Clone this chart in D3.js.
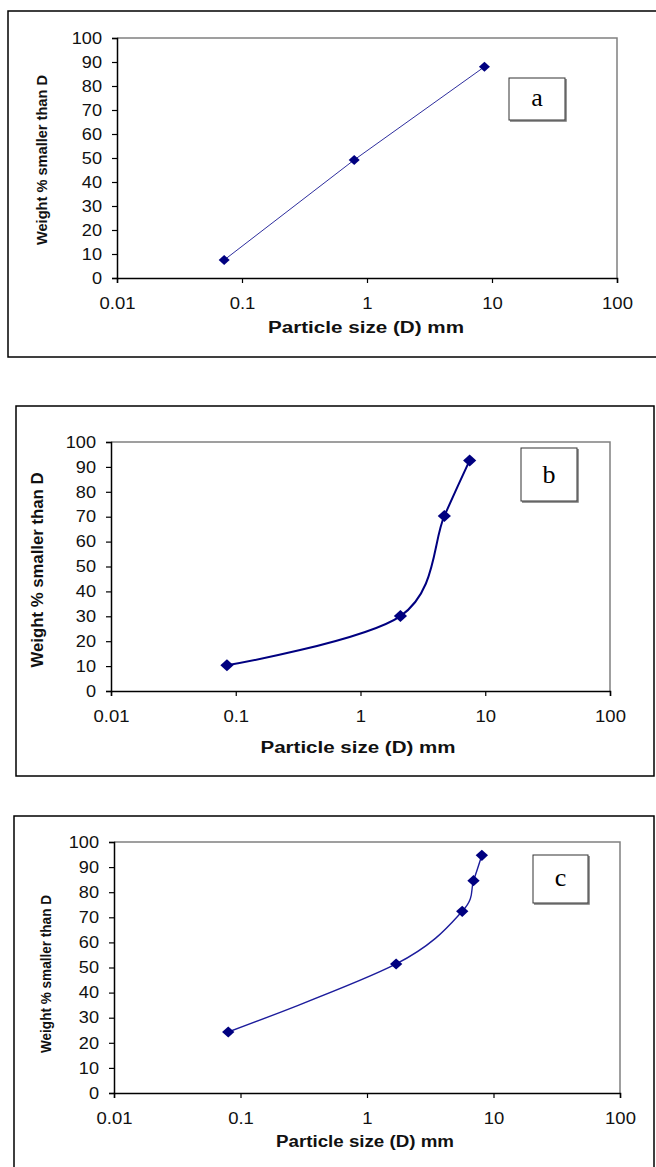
<!DOCTYPE html>
<html lang="en">
<head>
  <meta charset="UTF-8">
  <title>Particle size distribution</title>
  <script src="https://d3js.org/d3.v7.min.js"></script>
  <style>
    html, body { margin: 0; padding: 0; background: #fff; }
    svg { display: block; }
    text { font-family: Arial, "Liberation Sans", sans-serif; fill: #111; }
    text.letter { font-family: "Liberation Serif", "Times New Roman", serif; fill: #000; }
  </style>
</head>
<body>
<svg id="canvas" width="656" height="1167"></svg>
<script>
  // ---- data ----
  let xTickValues = [0.01, 0.1, 1, 10, 100];
  let yTickValues = [0, 10, 20, 30, 40, 50, 60, 70, 80, 90, 100];
  let xTitle = "Particle size (D) mm";
  let yTitle = "Weight % smaller than D";
  let panelNames = ["a", "b", "c"];

  let sizeA = [0.072, 0.79, 8.7];
  let finerA = [7.5, 49.2, 88];

  let sizeB = [0.085, 2.09, 4.7, 7.5];
  let finerB = [10.3, 30.1, 70.3, 92.6];

  let sizeC = [0.08, 1.7, 5.66, 6.95, 8.09];
  let finerC = [24.3, 51.4, 72.4, 84.6, 94.7];

  // ---- layout of each panel (positions only) ----
  let panels = [
    { name: panelNames[0], sizes: sizeA, finer: finerA, smooth: false,
      frame: [8, 11, 660, 346], plot: [117, 617, 38, 278], box: [509, 78, 56, 42],
      yt: [42, 160, 170, 15], xt: [366, 333, 196], line: ["#2e2e9e", 1], mark: 5 },
    { name: panelNames[1], sizes: sizeB, finer: finerB, smooth: true,
      frame: [16, 406, 638, 370], plot: [111, 610, 442, 691], box: [521, 448, 56, 53],
      yt: [37.5, 570, 195, 16], xt: [358, 753, 195], line: ["#000080", 2], mark: 6 },
    { name: panelNames[2], sizes: sizeC, finer: finerC, smooth: true,
      frame: [14, 816, 640, 420], plot: [114, 620, 842, 1093], box: [533, 855, 55, 48],
      yt: [46, 974, 158, 15], xt: [365, 1147, 178], line: ["#1c1c9c", 1.4], mark: 5.6 }
  ];

  let svg = d3.select('#canvas');

  // widen text a little, the source figure is stretched sideways
  let stretch = (sel, k) => {
    sel.each(function () {
      let w = this.getComputedTextLength();
      d3.select(this).attr('textLength', w * k).attr('lengthAdjust', 'spacingAndGlyphs');
    });
  };

  panels.forEach(p => {
    let [l, r, t, b] = p.plot;
    let g = svg.append('g');

    // outer frame
    g.append('rect')
      .attr('x', p.frame[0]).attr('y', p.frame[1])
      .attr('width', p.frame[2]).attr('height', p.frame[3])
      .attr('fill', 'none').attr('stroke', '#000').attr('stroke-width', 1.5);

    let x = d3.scaleLog().domain([0.01, 100]).range([l, r]);
    let y = d3.scaleLinear().domain([0, 100]).range([b, t]);

    // plot area border (top / right in grey)
    g.append('path')
      .attr('d', `M${l},${t}H${r}V${b}`)
      .attr('fill', 'none').attr('stroke', '#808080').attr('stroke-width', 1.5);

    let xAxis = g.append('g')
      .attr('transform', `translate(0,${b})`)
      .call(d3.axisBottom(x).tickValues(xTickValues).tickSize(5).tickPadding(10)
        .tickFormat(d => String(d)));
    let yAxis = g.append('g')
      .attr('transform', `translate(${l},0)`)
      .call(d3.axisLeft(y).tickValues(yTickValues).tickSize(5).tickPadding(10));

    [xAxis, yAxis].forEach(ax => {
      ax.select('.domain').attr('stroke', '#000').attr('stroke-width', 1.5);
      ax.selectAll('.tick line').attr('stroke', '#000').attr('stroke-width', 1.2);
      ax.selectAll('.tick text')
        .attr('font-size', 16.5).attr('fill', '#111');
    });
    xAxis.selectAll('.tick text').attr('dy', '0.95em');
    stretch(xAxis.selectAll('.tick text'), 1.12);
    stretch(yAxis.selectAll('.tick text'), 1.1);

    // axis titles
    g.append('text')
      .attr('x', p.xt[0]).attr('y', p.xt[1])
      .attr('text-anchor', 'middle')
      .attr('font-size', 16).attr('font-weight', 'bold')
      .attr('textLength', p.xt[2]).attr('lengthAdjust', 'spacingAndGlyphs')
      .text(xTitle);

    g.append('text')
      .attr('transform', `translate(${p.yt[0]},${p.yt[1]}) rotate(-90)`)
      .attr('text-anchor', 'middle').attr('dy', '0.35em')
      .attr('font-size', p.yt[3]).attr('font-weight', 'bold')
      .attr('textLength', p.yt[2]).attr('lengthAdjust', 'spacingAndGlyphs')
      .text(yTitle);

    // data line and markers
    let pts = p.sizes.map((s, i) => [s, p.finer[i]]);
    let line = d3.line()
      .x(d => x(d[0])).y(d => y(d[1]))
      .curve(p.smooth ? d3.curveCardinal.tension(0) : d3.curveLinear);

    g.append('path')
      .datum(pts)
      .attr('d', line)
      .attr('fill', 'none')
      .attr('stroke', p.line[0]).attr('stroke-width', p.line[1]);

    let m = p.mark;
    g.selectAll('path.mark')
      .data(pts)
      .enter()
      .append('path')
      .attr('class', 'mark')
      .attr('d', `M0,${-m}L${m * 1.1},0L0,${m}L${-m * 1.1},0Z`)
      .attr('transform', d => `translate(${x(d[0])},${y(d[1])})`)
      .attr('fill', '#000080');

    // panel letter box
    let [bx, by, bw, bh] = p.box;
    g.append('path')
      .attr('d', `M${bx + bw + 1},${by + 1}V${by + bh + 1}H${bx + 1}`)
      .attr('fill', 'none').attr('stroke', '#777').attr('stroke-width', 1.5);
    g.append('rect')
      .attr('x', bx).attr('y', by).attr('width', bw).attr('height', bh)
      .attr('fill', '#fff').attr('stroke', '#333').attr('stroke-width', 1);
    g.append('text')
      .attr('class', 'letter')
      .attr('x', bx + bw / 2).attr('y', by + bh / 2)
      .attr('text-anchor', 'middle').attr('dy', p.name === 'b' ? '0.33em' : '0.28em')
      .attr('font-size', 26)
      .text(p.name);
  });
</script>
</body>
</html>
